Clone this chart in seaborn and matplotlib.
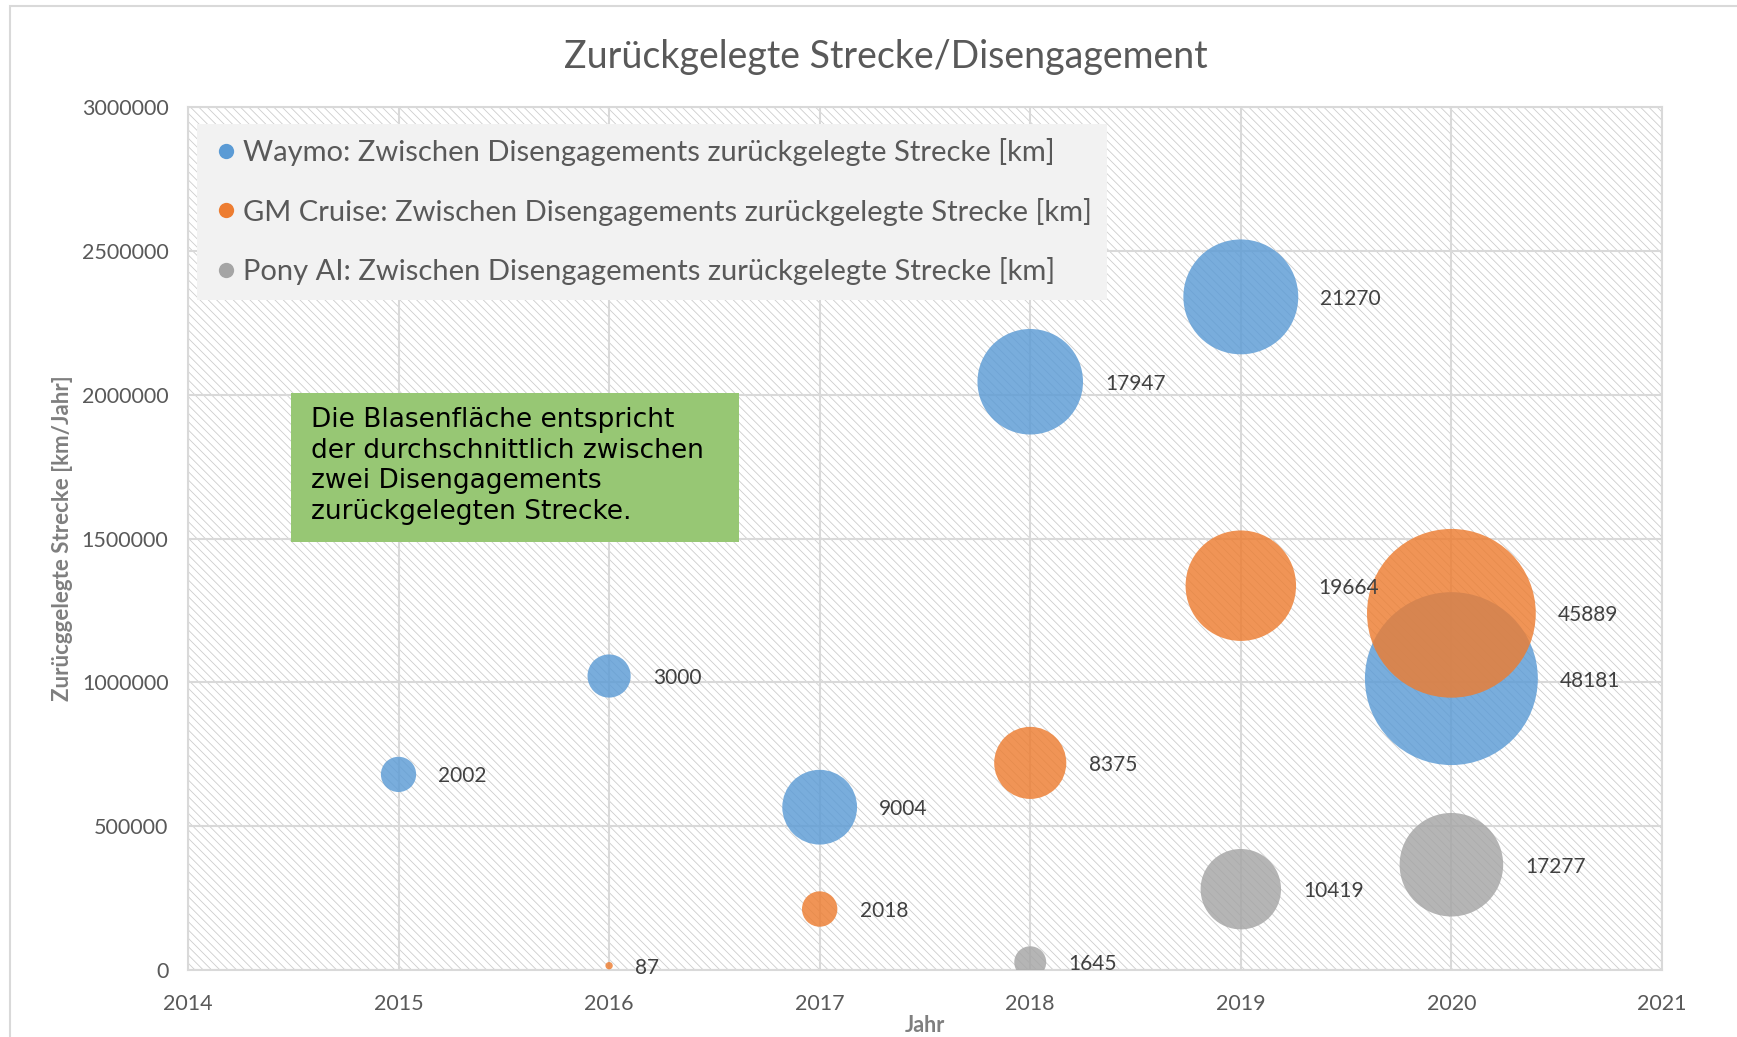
import numpy as np
import pandas as pd
import seaborn as sns
import matplotlib.pyplot as plt
from matplotlib.patches import Rectangle
from matplotlib.lines import Line2D

# values
years_waymo = [2015, 2016, 2017, 2018, 2019, 2020]
strecke_waymo = [680000, 1022000, 566000, 2045000, 2340000, 1013000]
km_waymo = [2002, 3000, 9004, 17947, 21270, 48181]

years_gm = [2016, 2017, 2018, 2019, 2020]
strecke_gm = [15000, 212000, 720000, 1336000, 1240000]
km_gm = [87, 2018, 8375, 19664, 45889]

years_pony = [2018, 2019, 2020]
strecke_pony = [27000, 281000, 366000]
km_pony = [1645, 10419, 17277]

series = ['Waymo', 'GM Cruise', 'Pony AI']
colors = ['#5B9BD5', '#ED7D31', '#A5A5A5']
x_ticks = [2014, 2015, 2016, 2017, 2018, 2019, 2020, 2021]
y_ticks = [0, 500000, 1000000, 1500000, 2000000, 2500000, 3000000]

df = pd.concat([
    pd.DataFrame({'Jahr': years_waymo, 'Strecke': strecke_waymo, 'km': km_waymo, 'Firma': 'Waymo'}),
    pd.DataFrame({'Jahr': years_gm, 'Strecke': strecke_gm, 'km': km_gm, 'Firma': 'GM Cruise'}),
    pd.DataFrame({'Jahr': years_pony, 'Strecke': strecke_pony, 'km': km_pony, 'Firma': 'Pony AI'}),
], ignore_index=True)

sns.set_style("white")
plt.rcParams['font.family'] = ['Lato', 'DejaVu Sans']
plt.rcParams['hatch.linewidth'] = 0.6

fig = plt.figure(figsize=(17.37, 10.37), dpi=100)
ax = fig.add_axes([0.1082, 0.0646, 0.8486, 0.8322])

# hatched plot area
ax.add_patch(Rectangle((0, 0), 1, 1, transform=ax.transAxes, facecolor='white',
                       edgecolor='#cdcdcd', hatch='\\' * 4, lw=0, zorder=0))
ax.set_axisbelow(True)
ax.grid(True, color='#d9d9d9', lw=1.5, zorder=0.5)

max_km = df['km'].max()
s_max = 15500
sns.scatterplot(data=df, x='Jahr', y='Strecke', hue='Firma', size='km',
                sizes=(0, s_max), size_norm=(0, max_km), hue_order=series,
                palette=colors, alpha=0.82, linewidth=0, legend=False,
                ax=ax, zorder=3)

# data labels to the right of each bubble
for _, r in df.iterrows():
    rad = np.sqrt(r['km'] / max_km * s_max) / 2
    ax.annotate(str(r['km']), (r['Jahr'], r['Strecke']), xytext=(rad + 16, -1.5),
                textcoords='offset points', va='center', ha='left',
                fontsize=15, color='#404040', zorder=4)

ax.set_xlim(2014, 2021)
ax.set_ylim(0, 3000000)
ax.set_xticks(x_ticks)
ax.set_yticks(y_ticks)
ax.set_yticklabels([str(v) for v in y_ticks])
ax.tick_params(labelsize=15.5, colors='#595959', length=0)
ax.tick_params(axis='x', pad=17)
ax.tick_params(axis='y', pad=14)
for sp in ax.spines.values():
    sp.set_color('#d9d9d9')
    sp.set_linewidth(1.5)

ax.set_xlabel('Jahr', fontsize=15.5, fontweight='bold', color='#7f7f7f', labelpad=1)
ax.set_ylabel('Zurücggelegte Strecke [km/Jahr]', fontsize=16, fontweight='bold',
              color='#7f7f7f', labelpad=6)
fig.suptitle('Zurückgelegte Strecke/Disengagement', fontsize=27, color='#595959',
             x=0.51, y=0.962)

handles = [Line2D([], [], marker='o', ls='', markersize=11, markerfacecolor=c,
                  markeredgewidth=0) for c in colors]
labels = [f'{s}: Zwischen Disengagements zurückgelegte Strecke [km]' for s in series]
leg = ax.legend(handles, labels, loc='upper left', bbox_to_anchor=(0.0, 0.991),
                fontsize=21, frameon=True, facecolor='#F2F2F2', edgecolor='none',
                framealpha=1, fancybox=False, labelspacing=1.08, handletextpad=0.1,
                handlelength=1.0, borderpad=0.5, borderaxespad=0.3,
                labelcolor='#595959')
leg.set_zorder(5)

# green note box
ax.add_patch(Rectangle((0.0699, 0.4959), 0.3039, 0.1727, transform=ax.transAxes,
                       facecolor='#97C774', edgecolor='none', zorder=5))
ax.text(0.0834, 0.652, 'Die Blasenfläche entspricht\nder durchschnittlich zwischen\n'
        'zwei Disengagements\nzurückgelegten Strecke.', transform=ax.transAxes,
        va='top', ha='left', fontsize=19, family='DejaVu Sans', color='black',
        linespacing=1.22, zorder=6)

# outer chart frame
fig.add_artist(Rectangle((10 / 1737, -0.1), 1.1, 1 - 6 / 1037 + 0.1,
                         transform=fig.transFigure, fill=False,
                         edgecolor='#d9d9d9', lw=1.5))

fig.savefig('out.png', dpi=100)
